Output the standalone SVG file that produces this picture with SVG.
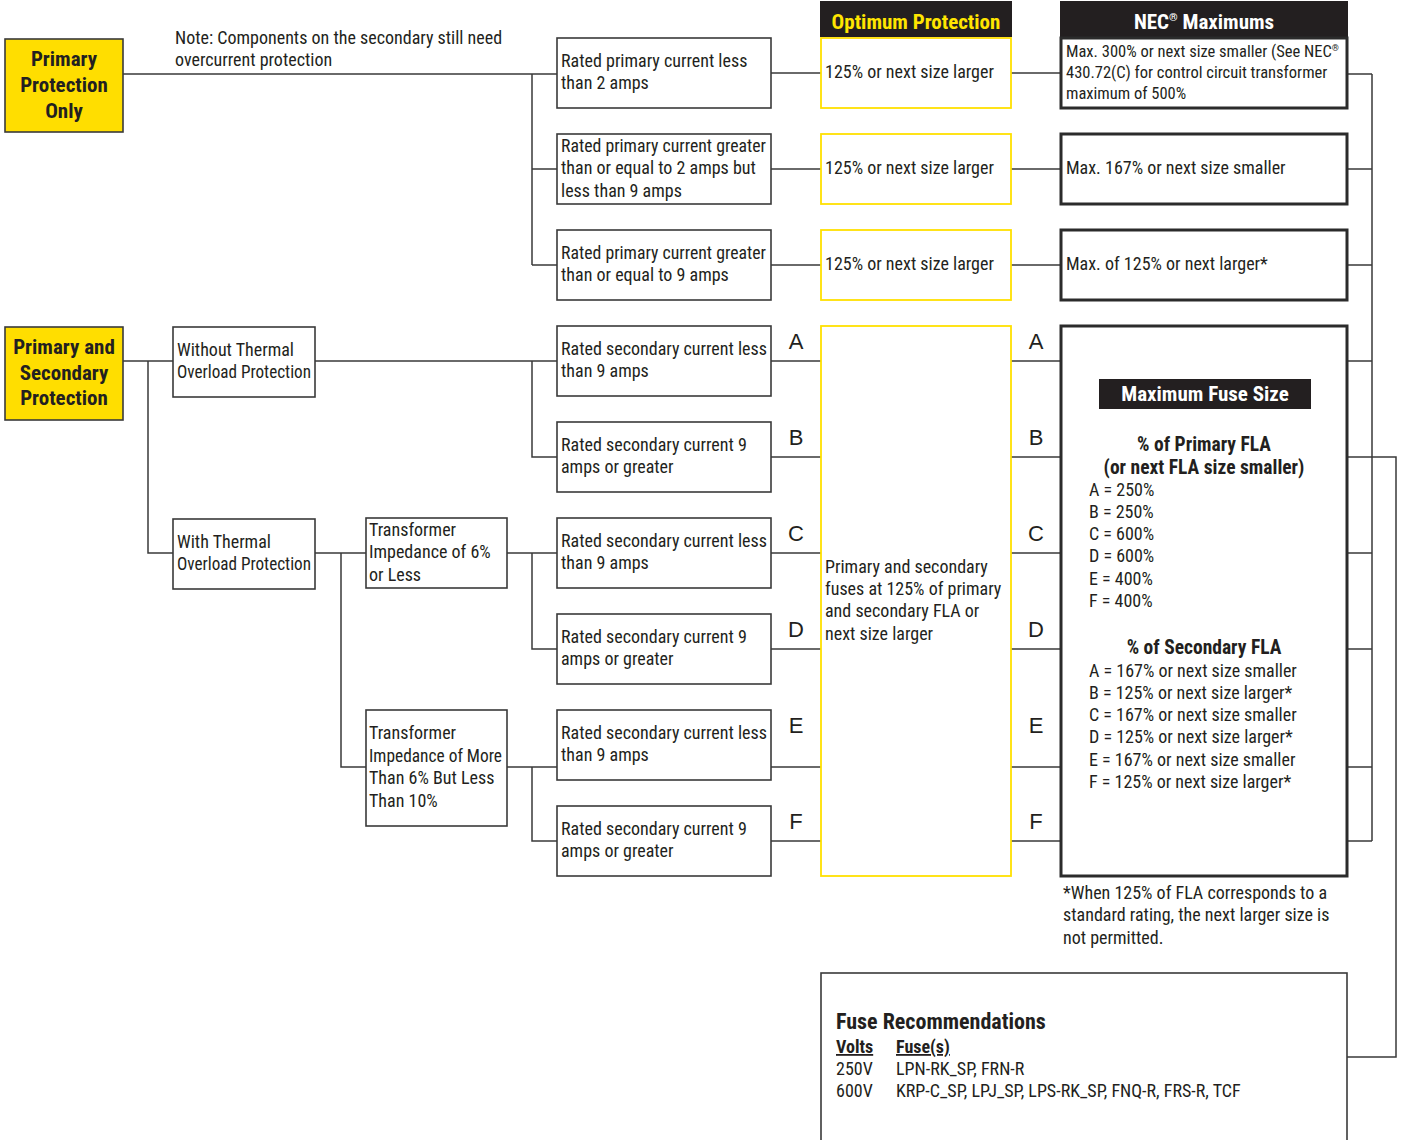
<svg xmlns="http://www.w3.org/2000/svg" width="1404" height="1140" viewBox="0 0 1404 1140">
<style>
  text { font-family: "Liberation Sans Narrow", "Roboto Condensed", "DejaVu Sans Condensed", "Liberation Sans", sans-serif; fill: #231f20; }
  .t { font-size: 18px; }
  .s { font-size: 16.5px; }
  .h { font-size: 21px; font-weight: bold; text-anchor: middle; }
  .hb { font-size: 21px; font-weight: bold; text-anchor: middle; }
  .sub { font-size: 19.5px; font-weight: bold; text-anchor: middle; }
  .lt { font-family: "Liberation Sans", Arial, sans-serif; font-size: 22px; text-anchor: middle; }
  .box { fill: #fff; stroke: #3a3a3a; stroke-width: 1.6; }
  .ybox { fill: #ffde00; stroke: #3a3a3a; stroke-width: 1.6; }
  .opt { fill: #fff; stroke: #ffe000; stroke-width: 1.8; }
  .nec { fill: #fff; stroke: #2b2b2b; stroke-width: 3; }
  .hdr { fill: #231f20; }
  .conn path { fill: none; stroke: #3a3a3a; stroke-width: 1.5; }
</style>

<g id="connectors" class="conn">
  <path d="M123 74 H557 M532 74 V265 M532 169 H557 M532 265 H557"/>
  <path d="M771 73 H821 M771 169 H821 M771 265 H821"/>
  <path d="M1011 73 H1061 M1011 169 H1061 M1011 265 H1061"/>
  <path d="M1347 74 H1372 M1347 169 H1372 M1347 265 H1372 M1372 74 V841"/>
  <path d="M123 361 H173 M148 361 V553 H173"/>
  <path d="M315 361 H557 M532 361 V457 H557"/>
  <path d="M315 553 H366 M341 553 V767 H366"/>
  <path d="M507 553 H557 M532 553 V649 H557"/>
  <path d="M507 767 H557 M532 767 V841 H557"/>
  <path d="M771 361 H821 M771 457 H821 M771 553 H821 M771 649 H821 M771 767 H821 M771 841 H821"/>
  <path d="M1011 361 H1061 M1011 457 H1061 M1011 553 H1061 M1011 649 H1061 M1011 767 H1061 M1011 841 H1061"/>
  <path d="M1347 361 H1372 M1347 457 H1372 M1347 553 H1372 M1347 649 H1372 M1347 767 H1372 M1347 841 H1372"/>
  <path d="M1372 457 H1396 V1057 H1347"/>
</g>

<g id="note">
  <text class="t" x="175" y="44">Note: Components on the secondary still need</text>
  <text class="t" x="175" y="66">overcurrent protection</text>
</g>

<g id="primary-only">
  <rect class="ybox" x="5" y="39" width="118" height="93"/>
  <text class="h" x="64" y="66">Primary</text>
  <text class="h" x="64" y="92">Protection</text>
  <text class="h" x="64" y="118">Only</text>
</g>

<g id="primary-and-secondary">
  <rect class="ybox" x="5" y="327" width="118" height="93"/>
  <text class="h" x="64" y="354">Primary and</text>
  <text class="h" x="64" y="380">Secondary</text>
  <text class="h" x="64" y="405">Protection</text>
</g>

<g id="p1">
  <rect class="box" x="557" y="38" width="214" height="70"/>
  <text class="t" x="561" y="67">Rated primary current less</text>
  <text class="t" x="561" y="89">than 2 amps</text>
</g>
<g id="p2">
  <rect class="box" x="557" y="134" width="214" height="70"/>
  <text class="t" x="561" y="152" textLength="205" lengthAdjust="spacingAndGlyphs">Rated primary current greater</text>
  <text class="t" x="561" y="174">than or equal to 2 amps but</text>
  <text class="t" x="561" y="197">less than 9 amps</text>
</g>
<g id="p3">
  <rect class="box" x="557" y="230" width="214" height="70"/>
  <text class="t" x="561" y="259" textLength="205" lengthAdjust="spacingAndGlyphs">Rated primary current greater</text>
  <text class="t" x="561" y="281">than or equal to 9 amps</text>
</g>

<g id="opt-header">
  <rect class="hdr" x="820" y="1" width="192" height="36"/>
  <text class="h" x="916" y="29" style="fill:#ffe500">Optimum Protection</text>
</g>
<g id="o1">
  <rect class="opt" x="821" y="38" width="190" height="70"/>
  <text class="t" x="825" y="78">125% or next size larger</text>
</g>
<g id="o2">
  <rect class="opt" x="821" y="134" width="190" height="70"/>
  <text class="t" x="825" y="174">125% or next size larger</text>
</g>
<g id="o3">
  <rect class="opt" x="821" y="230" width="190" height="70"/>
  <text class="t" x="825" y="270">125% or next size larger</text>
</g>

<g id="nec-header">
  <rect class="hdr" x="1060" y="1" width="288" height="36"/>
  <text class="h" x="1204" y="29" style="fill:#fff">NEC<tspan font-size="11" dy="-8">®</tspan><tspan dy="8"> Maximums</tspan></text>
</g>
<g id="n1">
  <rect class="nec" x="1061" y="38" width="286" height="70"/>
  <text class="s" x="1066" y="57">Max. 300% or next size smaller (See NEC<tspan font-size="9" dy="-6">®</tspan></text>
  <text class="s" x="1066" y="78">430.72(C) for control circuit transformer</text>
  <text class="s" x="1066" y="99">maximum of 500%</text>
</g>
<g id="n2">
  <rect class="nec" x="1061" y="134" width="286" height="70"/>
  <text class="t" x="1066" y="174">Max. 167% or next size smaller</text>
</g>
<g id="n3">
  <rect class="nec" x="1061" y="230" width="286" height="70"/>
  <text class="t" x="1066" y="270">Max. of 125% or next larger*</text>
</g>

<g id="without-thermal">
  <rect class="box" x="173" y="327" width="142" height="70"/>
  <text class="t" x="177" y="356">Without Thermal</text>
  <text class="t" x="177" y="378" textLength="134" lengthAdjust="spacingAndGlyphs">Overload Protection</text>
</g>
<g id="with-thermal">
  <rect class="box" x="173" y="519" width="142" height="70"/>
  <text class="t" x="177" y="548">With Thermal</text>
  <text class="t" x="177" y="570" textLength="134" lengthAdjust="spacingAndGlyphs">Overload Protection</text>
</g>
<g id="imp-6">
  <rect class="box" x="366" y="518" width="141" height="70"/>
  <text class="t" x="369" y="536">Transformer</text>
  <text class="t" x="369" y="558">Impedance of 6%</text>
  <text class="t" x="369" y="581">or Less</text>
</g>
<g id="imp-more">
  <rect class="box" x="366" y="710" width="141" height="116"/>
  <text class="t" x="369" y="739">Transformer</text>
  <text class="t" x="369" y="762" textLength="133" lengthAdjust="spacingAndGlyphs">Impedance of More</text>
  <text class="t" x="369" y="784">Than 6% But Less</text>
  <text class="t" x="369" y="807">Than 10%</text>
</g>

<g id="sA">
  <rect class="box" x="557" y="326" width="214" height="70"/>
  <text class="t" x="561" y="355">Rated secondary current less</text>
  <text class="t" x="561" y="377">than 9 amps</text>
</g>
<g id="sB">
  <rect class="box" x="557" y="422" width="214" height="70"/>
  <text class="t" x="561" y="451">Rated secondary current 9</text>
  <text class="t" x="561" y="473">amps or greater</text>
</g>
<g id="sC">
  <rect class="box" x="557" y="518" width="214" height="70"/>
  <text class="t" x="561" y="547">Rated secondary current less</text>
  <text class="t" x="561" y="569">than 9 amps</text>
</g>
<g id="sD">
  <rect class="box" x="557" y="614" width="214" height="70"/>
  <text class="t" x="561" y="643">Rated secondary current 9</text>
  <text class="t" x="561" y="665">amps or greater</text>
</g>
<g id="sE">
  <rect class="box" x="557" y="710" width="214" height="70"/>
  <text class="t" x="561" y="739">Rated secondary current less</text>
  <text class="t" x="561" y="761">than 9 amps</text>
</g>
<g id="sF">
  <rect class="box" x="557" y="806" width="214" height="70"/>
  <text class="t" x="561" y="835">Rated secondary current 9</text>
  <text class="t" x="561" y="857">amps or greater</text>
</g>

<g id="letters">
  <text class="lt" x="796" y="349">A</text>
  <text class="lt" x="796" y="445">B</text>
  <text class="lt" x="796" y="541">C</text>
  <text class="lt" x="796" y="637">D</text>
  <text class="lt" x="796" y="733">E</text>
  <text class="lt" x="796" y="829">F</text>
  <text class="lt" x="1036" y="349">A</text>
  <text class="lt" x="1036" y="445">B</text>
  <text class="lt" x="1036" y="541">C</text>
  <text class="lt" x="1036" y="637">D</text>
  <text class="lt" x="1036" y="733">E</text>
  <text class="lt" x="1036" y="829">F</text>
</g>

<g id="opt-secondary">
  <rect class="opt" x="821" y="326" width="190" height="550"/>
  <text class="t" x="825" y="573">Primary and secondary</text>
  <text class="t" x="825" y="595">fuses at 125% of primary</text>
  <text class="t" x="825" y="617">and secondary FLA or</text>
  <text class="t" x="825" y="640">next size larger</text>
</g>

<g id="max-fuse">
  <rect class="nec" x="1061" y="326" width="286" height="550"/>
  <rect class="hdr" x="1099" y="379" width="212" height="30"/>
  <text class="hb" x="1205" y="401" style="fill:#fff">Maximum Fuse Size</text>
  <text class="sub" x="1204" y="451">% of Primary FLA</text>
  <text class="sub" x="1204" y="474">(or next FLA size smaller)</text>
  <text class="t" x="1089" y="496">A = 250%</text>
  <text class="t" x="1089" y="518">B = 250%</text>
  <text class="t" x="1089" y="540">C = 600%</text>
  <text class="t" x="1089" y="562">D = 600%</text>
  <text class="t" x="1089" y="585">E = 400%</text>
  <text class="t" x="1089" y="607">F = 400%</text>
  <text class="sub" x="1204" y="654">% of Secondary FLA</text>
  <text class="t" x="1089" y="677">A = 167% or next size smaller</text>
  <text class="t" x="1089" y="699">B = 125% or next size larger*</text>
  <text class="t" x="1089" y="721">C = 167% or next size smaller</text>
  <text class="t" x="1089" y="743">D = 125% or next size larger*</text>
  <text class="t" x="1089" y="766">E = 167% or next size smaller</text>
  <text class="t" x="1089" y="788">F = 125% or next size larger*</text>
</g>

<g id="footnote">
  <text class="t" x="1063" y="899">*When 125% of FLA corresponds to a</text>
  <text class="t" x="1063" y="921">standard rating, the next larger size is</text>
  <text class="t" x="1063" y="944">not permitted.</text>
</g>

<g id="fuse-rec">
  <rect class="box" x="821" y="973" width="526" height="180"/>
  <text x="836" y="1029" font-size="22" font-weight="bold">Fuse Recommendations</text>
  <text x="836" y="1053" font-size="18" font-weight="bold" text-decoration="underline">Volts</text>
  <text x="896" y="1053" font-size="18" font-weight="bold" text-decoration="underline">Fuse(s)</text>
  <text class="t" x="836" y="1075">250V</text>
  <text class="t" x="896" y="1075">LPN-RK_SP, FRN-R</text>
  <text class="t" x="836" y="1097">600V</text>
  <text class="t" x="896" y="1097">KRP-C_SP, LPJ_SP, LPS-RK_SP, FNQ-R, FRS-R, TCF</text>
</g>
</svg>
